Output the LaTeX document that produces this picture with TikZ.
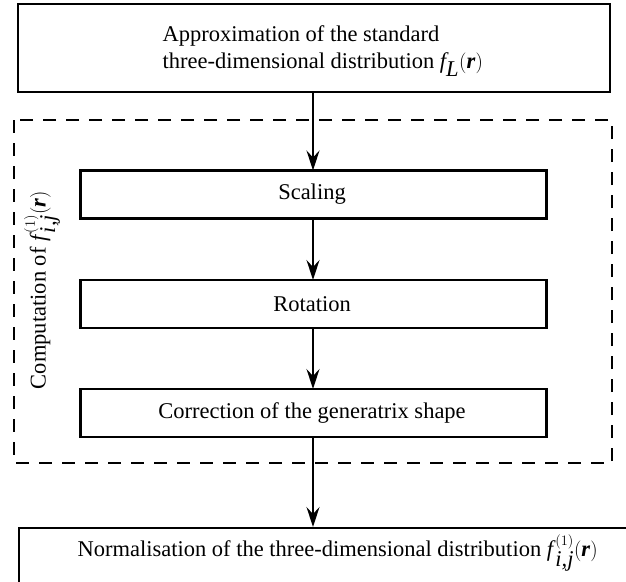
\documentclass[tikz,border=0pt]{standalone}
\usepackage{fontspec}
\setmainfont{Liberation Serif}
\usetikzlibrary{arrows.meta}
\newcommand{\vr}{\textbf{\textit{r}}}
\newcommand{\fij}{\textit{f}^{\,(1)}_{\,\textit{i,j}}}
\begin{document}
\begin{tikzpicture}[x=1pt,y=-1pt,
  every node/.style={font=\fontsize{22.5}{27}\selectfont},
  box/.style={draw, line width=2.2pt, inner sep=0pt},
  frame/.style={draw, line width=2.2pt, dash pattern=on 13pt off 10pt},
  flow/.style={line width=1.6pt, -{Stealth[length=20pt,width=13pt,inset=7pt]}}]
\useasboundingbox (0,0) rectangle (626,581);
% boxes
\node[box, minimum width=592pt, minimum height=88pt] (top) at (314,48) {};
\node[align=left, anchor=west] (toptext) at (159,51)
  {Approximation of the standard\\three-dimensional distribution $\textit{f}_{\textit{L}}(\vr)$};
\node[box, minimum width=466pt, minimum height=48pt] (scal) at (313.5,194.5) {};
\node at (312,194.5) {Scaling};
\node[box, minimum width=466pt, minimum height=48pt] (rot) at (313.5,304) {};
\node at (312,304) {Rotation};
\node[box, minimum width=466pt, minimum height=48pt] (corr) at (313.5,413) {};
\node at (312,413) {Correction of the generatrix shape};
\node[box, minimum width=640pt, minimum height=110pt, anchor=north west] (norm) at (18,527) {};
\node[anchor=west] (normtext) at (74,553)
  {Normalisation of the three-dimensional distribution $\fij(\vr)$};
% dashed frame
\draw[frame] (14,120) rectangle (612,463);
\node[rotate=90] (side) at (42,290) {Computation of $\fij(\vr)$};
% arrows
\coordinate (a0) at (313,92);
\coordinate (a1) at (313,170.5);
\coordinate (a2) at (313,218.5);
\coordinate (a3) at (313,280);
\coordinate (a4) at (313,328);
\coordinate (a5) at (313,389);
\coordinate (a6) at (313,437);
\coordinate (a7) at (313,527);
\draw[flow] (a0) -- (a1);
\draw[flow] (a2) -- (a3);
\draw[flow] (a4) -- (a5);
\draw[flow] (a6) -- (a7);
\end{tikzpicture}
\end{document}
